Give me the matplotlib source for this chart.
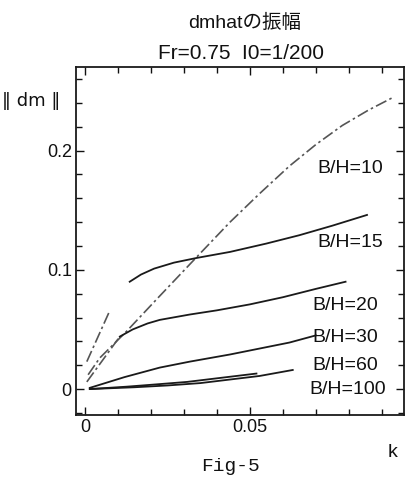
import matplotlib
matplotlib.use("Agg")
import matplotlib.pyplot as plt
from matplotlib.ticker import MultipleLocator

plt.rcParams['font.family'] = ['Liberation Sans', 'Noto Sans CJK JP', 'DejaVu Sans']

# values
k10 = [0.001, 0.0045, 0.0125, 0.022, 0.034, 0.044, 0.053, 0.062, 0.070, 0.078, 0.086, 0.093]
d10 = [0.012, 0.026, 0.048, 0.076, 0.111, 0.140, 0.164, 0.187, 0.205, 0.221, 0.234, 0.244]

k15a = [0.0006, 0.0076]
d15a = [0.023, 0.066]
k15 = [0.0136, 0.017, 0.021, 0.027, 0.034, 0.044, 0.055, 0.065, 0.075, 0.0855]
d15 = [0.090, 0.096, 0.101, 0.106, 0.110, 0.115, 0.122, 0.129, 0.137, 0.146]

k20a = [0.0006, 0.0106]
d20a = [0.006, 0.044]
k20 = [0.0106, 0.0145, 0.019, 0.0227, 0.0318, 0.040, 0.050, 0.060, 0.070, 0.079]
d20 = [0.044, 0.050, 0.055, 0.058, 0.0625, 0.066, 0.071, 0.077, 0.084, 0.090]

k30 = [0.0015, 0.012, 0.0227, 0.0318, 0.044, 0.053, 0.062, 0.070]
d30 = [0.001, 0.010, 0.018, 0.023, 0.029, 0.034, 0.039, 0.045]

k60 = [0.0015, 0.0127, 0.022, 0.031, 0.040, 0.046, 0.052]
d60 = [0.0, 0.002, 0.004, 0.006, 0.009, 0.011, 0.013]

k100 = [0.0015, 0.015, 0.025, 0.035, 0.044, 0.053, 0.063]
d100 = [0.0, 0.0015, 0.003, 0.005, 0.008, 0.011, 0.016]

labels = ['B/H=10', 'B/H=15', 'B/H=20', 'B/H=30', 'B/H=60', 'B/H=100']
label_x = [0.0803, 0.0803, 0.0788, 0.0788, 0.0788, 0.0797]
label_y = [0.185, 0.123, 0.070, 0.043, 0.020, 0.0]

fig = plt.figure(figsize=(4.06, 4.79), dpi=100)
ax = fig.add_axes([0.187, 0.133, 0.808, 0.727])

dashdot = (0, (7, 2, 1.5, 2))
solid_c = '#1a1a1a'
dash_c = '#555555'
text_c = '#111111'

ax.plot(k10, d10, color=dash_c, lw=1.2, linestyle=dashdot)
ax.plot(k15a, d15a, color=dash_c, lw=1.2, linestyle=dashdot)
ax.plot(k15, d15, color=solid_c, lw=1.3)
ax.plot(k20a, d20a, color=dash_c, lw=1.2, linestyle=dashdot)
ax.plot(k20, d20, color=solid_c, lw=1.3)
ax.plot(k30, d30, color=solid_c, lw=1.3)
ax.plot(k60, d60, color=solid_c, lw=1.3)
ax.plot(k100, d100, color=solid_c, lw=1.3)

for t, x, y in zip(labels, label_x, label_y):
    ax.text(x, y, t, fontsize=14, ha='center', va='center', color=text_c)

ax.set_xlim(-0.0027, 0.0967)
ax.set_ylim(-0.022, 0.27)

ax.set_xticks([0, 0.05])
ax.set_xticklabels(['0', '0.05'])
ax.set_yticks([0, 0.1, 0.2])
ax.set_yticklabels(['0', '0.1', '0.2'])
ax.xaxis.set_minor_locator(MultipleLocator(0.01))
ax.yaxis.set_minor_locator(MultipleLocator(0.02))
ax.tick_params(which='both', direction='in', top=True, right=True,
               labelsize=13, colors=text_c, width=1)
ax.tick_params(which='major', length=6, pad=3)
ax.tick_params(which='minor', length=4)
for s in ax.spines.values():
    s.set_color('#1a1a1a')
    s.set_linewidth(1.3)

fig.text(0.603, 0.953, 'dmhatの振幅', fontsize=14, ha='center', va='center', color=text_c)
fig.text(0.593, 0.889, 'Fr=0.75  I0=1/200', fontsize=15, ha='center', va='center', color=text_c)
fig.text(0.005, 0.79, '‖ dm ‖', fontsize=13, ha='left', va='center', color=text_c,
         family=['DejaVu Sans'])
fig.text(0.968, 0.056, 'k', fontsize=14, ha='center', va='center', color=text_c)
fig.text(0.567, 0.027, 'Fig-5', fontsize=14, ha='center', va='center', color=text_c,
         family=['Liberation Mono'])

fig.savefig('out.png', dpi=100)
